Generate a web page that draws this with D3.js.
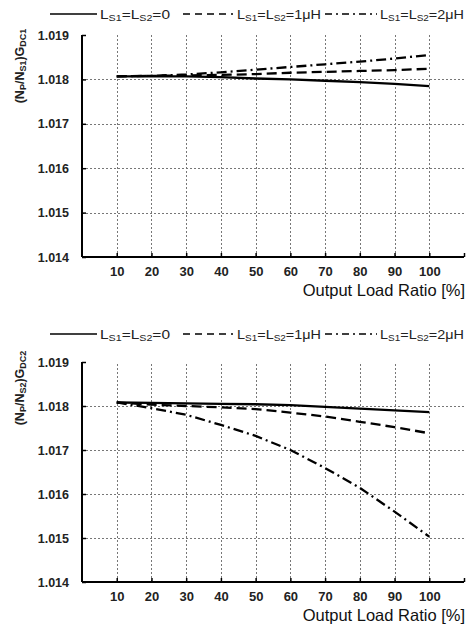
<!DOCTYPE html>
<html>
<head>
<meta charset="utf-8">
<script src="https://cdn.jsdelivr.net/npm/d3@7"></script>
<style>
  body { margin: 0; background: #fff; }
  svg { font-family: "Liberation Sans", Arial, sans-serif; }
</style>
</head>
<body>
<div id="chart"></div>
<script>
// load ratio [%]
var loadRatio = [10, 20, 30, 40, 50, 60, 70, 80, 90, 100];

// (Np/Ns1) Gdc1
var gdc1_L0 = [1.01807, 1.01807, 1.01807, 1.01805, 1.01802, 1.01800, 1.01797, 1.01794, 1.01790, 1.01785];
var gdc1_L1 = [1.01807, 1.01808, 1.01809, 1.01810, 1.01812, 1.01815, 1.01817, 1.01819, 1.01821, 1.01824];
var gdc1_L2 = [1.01807, 1.01808, 1.01811, 1.01816, 1.01822, 1.01828, 1.01834, 1.01840, 1.01847, 1.01855];

// (Np/Ns2) Gdc2
var gdc2_L0 = [1.01808, 1.01807, 1.01806, 1.01805, 1.01804, 1.01802, 1.01798, 1.01794, 1.01790, 1.01786];
var gdc2_L1 = [1.01808, 1.01803, 1.01800, 1.01797, 1.01793, 1.01785, 1.01776, 1.01764, 1.01752, 1.01738];
var gdc2_L2 = [1.01808, 1.01795, 1.01780, 1.01757, 1.01732, 1.01700, 1.01659, 1.01614, 1.01560, 1.01503];

var xTicks = [10, 20, 30, 40, 50, 60, 70, 80, 90, 100, 110];
var yTicks = [1.014, 1.015, 1.016, 1.017, 1.018, 1.019];

var width = 467, height = 631;

var svg = d3.select("#chart").append("svg")
    .attr("width", width)
    .attr("height", height);

var dashes = [null, "10,5", "10,4,2,4"];
var legDashes = [null, "7,5", "7,4,2,4"];

function subText(sel, parts, small) {
  // parts: [text, isSub]
  parts.forEach(function(p) {
    var t = sel.append("tspan").text(p[0]);
    if (p[1]) t.attr("font-size", small).attr("baseline-shift", "-25%");
  });
}

function panel(top, yBottom, yTop, series, sIdx, yLabelCy) {
  var g = svg.append("g");

  var x = d3.scaleLinear().domain([0, 110]).range([82, 464]);
  var y = d3.scaleLinear().domain([1.014, 1.019]).range([yBottom, yTop]);

  // legend
  var leg = g.append("g").attr("transform", "translate(0," + (top + 14) + ")");
  var legX = [[50, 97, 100], [183, 233, 237], [325, 377, 380]];
  var legVal = ["=0", "=1μH", "=2μH"];
  legX.forEach(function(l, i) {
    leg.append("line")
      .attr("x1", l[0]).attr("x2", l[1])
      .attr("stroke", "#000").attr("stroke-width", 1.6)
      .attr("stroke-dasharray", legDashes[i]);
    var t = leg.append("text")
      .attr("x", l[2]).attr("y", 4.5)
      .attr("font-size", 13).attr("fill", "#222")
      .attr("textLength", i === 0 ? 70 : 84)
      .attr("lengthAdjust", "spacingAndGlyphs");
    subText(t, [["L", 0], ["S1", 1], ["=L", 0], ["S2", 1], [legVal[i], 0]], 9);
  });

  // grid, dotted
  var snap = function(v) { return Math.round(v) + 0.5; };

  g.append("g").selectAll("line")
    .data(loadRatio).enter().append("line")
    .attr("x1", function(d) { return snap(x(d)); })
    .attr("x2", function(d) { return snap(x(d)); })
    .attr("y1", y(1.014)).attr("y2", y(1.019))
    .style("stroke", "#777").style("stroke-width", "1px")
    .style("stroke-dasharray", "2,2");

  g.append("g").selectAll("line")
    .data(yTicks.slice(1, 5)).enter().append("line")
    .attr("x1", x(0)).attr("x2", x(110))
    .attr("y1", function(d) { return snap(y(d)); })
    .attr("y2", function(d) { return snap(y(d)); })
    .style("stroke", "#777").style("stroke-width", "1px")
    .style("stroke-dasharray", "2,2");

  // axes
  var xAxis = d3.axisBottom(x)
    .tickValues(xTicks)
    .tickSize(-4)
    .tickPadding(10)
    .tickFormat(function(d) { return d === 110 ? "" : d; });

  var gx = g.append("g")
    .attr("transform", "translate(0," + y(1.014) + ")")
    .call(xAxis);
  gx.select(".domain").attr("d", "M" + x(0) + ",0H" + x(110)).attr("stroke-width", 2);
  gx.selectAll(".tick line").attr("stroke-width", 1.5);
  gx.selectAll("text").attr("font-size", 13).attr("font-weight", "bold").attr("fill", "#222");

  var yAxis = d3.axisLeft(y)
    .tickValues(yTicks)
    .tickSize(-4)
    .tickPadding(13)
    .tickFormat(d3.format(".3f"));

  var gy = g.append("g")
    .attr("transform", "translate(" + x(0) + ",0)")
    .call(yAxis);
  gy.select(".domain").attr("d", "M0," + y(1.019) + "V" + y(1.014)).attr("stroke-width", 2);
  gy.selectAll(".tick line").attr("stroke-width", 1.5);
  gy.selectAll("text").attr("font-size", 12.5).attr("font-weight", "bold").attr("fill", "#222");

  // x label
  g.append("text")
    .attr("x", 465).attr("y", y(1.014) + 39)
    .attr("text-anchor", "end")
    .attr("font-size", 16.5).attr("fill", "#111")
    .text("Output Load Ratio [%]");

  // y label
  var yl = g.append("text")
    .attr("transform", "translate(24," + yLabelCy + ") rotate(-90)")
    .attr("text-anchor", "middle")
    .attr("font-size", 12.5).attr("font-weight", "bold").attr("fill", "#222");
  subText(yl, [["(N", 0], ["P", 1], ["/N", 0], ["S" + sIdx, 1], [")G", 0], ["DC" + sIdx, 1]], 9);

  // lines
  var line = d3.line()
    .x(function(d) { return x(d[0]); })
    .y(function(d) { return y(d[1]); });

  series.forEach(function(s, i) {
    g.append("path")
      .datum(loadRatio.map(function(v, k) { return [v, s[k]]; }))
      .attr("d", line)
      .attr("fill", "none")
      .attr("stroke", "#000")
      .attr("stroke-width", 2.3)
      .attr("stroke-dasharray", dashes[i]);
  });
}

panel(0, 257, 35, [gdc1_L0, gdc1_L1, gdc1_L2], 1, 66);
panel(320, 582, 362, [gdc2_L0, gdc2_L1, gdc2_L2], 2, 388);
</script>
</body>
</html>
